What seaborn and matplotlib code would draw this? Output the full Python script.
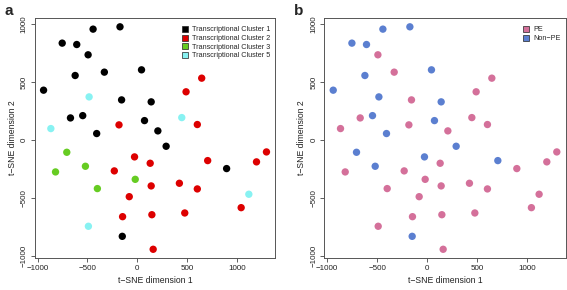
import matplotlib
matplotlib.use('Agg')
import matplotlib.pyplot as plt
from matplotlib.lines import Line2D
import pandas as pd
import seaborn as sns

# t-SNE coordinates
tsne_1 = [-940, -867, -753, -607, -443, -173, -493, -623, -330, 43,
          -483, -157, 140, -670, -547, -407, -183, 73, 207, 290,
          490, 647, 447, 603, -707, -820, -520, -27, 130, -230,
          -20, -400, 140, 423, 707, 897, 1197, 1297, 603, -80,
          1120, 1043, -147, 147, 477, -490, -150, 160]
tsne_2 = [430, 98, 837, 825, 958, 978, 736, 557, 586, 606,
          372, 346, 329, 190, 210, 55, 130, 167, 78, -55,
          416, 534, 193, 133, -107, -277, -228, -147, -202, -268,
          -341, -421, -398, -375, -179, -248, -190, -104, -424, -491,
          -470, -586, -664, -647, -632, -747, -834, -946]
cluster = [1, 5, 1, 1, 1, 1, 1, 1, 1, 1,
           5, 1, 1, 1, 1, 1, 2, 1, 1, 1,
           2, 2, 5, 2, 3, 3, 3, 2, 2, 2,
           3, 3, 2, 2, 2, 1, 2, 2, 2, 2,
           5, 2, 2, 2, 2, 5, 1, 2]
pe = ['N', 'P', 'N', 'N', 'N', 'N', 'P', 'N', 'P', 'N',
      'N', 'P', 'N', 'P', 'N', 'N', 'P', 'N', 'P', 'N',
      'P', 'P', 'P', 'P', 'N', 'P', 'N', 'N', 'P', 'P',
      'P', 'P', 'P', 'P', 'N', 'P', 'P', 'P', 'P', 'P',
      'P', 'P', 'P', 'P', 'P', 'P', 'N', 'P']

cluster_labels = ['Transcriptional Cluster 1', 'Transcriptional Cluster 2',
                  'Transcriptional Cluster 3', 'Transcriptional Cluster 5']
cluster_colors = {1: '#000000', 2: '#DD0000', 3: '#66CC22', 5: '#88F2F2'}
pe_labels = ['PE', 'Non\u2212PE']
pe_colors = {'P': '#D4709A', 'N': '#5B7FD0'}

df = pd.DataFrame({'x': tsne_1, 'y': tsne_2, 'cluster': cluster, 'pe': pe})

sns.set_style('white')
plt.rcParams['font.family'] = ['Liberation Sans', 'DejaVu Sans']

fig = plt.figure(figsize=(5.67, 2.90), dpi=100)
ax_a = fig.add_axes([0.0612, 0.1093, 0.4244, 0.8297])
ax_b = fig.add_axes([0.572, 0.1093, 0.4257, 0.8297])

sns.scatterplot(data=df, x='x', y='y', hue='cluster', palette=cluster_colors,
                s=28, linewidth=0, legend=False, ax=ax_a)
sns.scatterplot(data=df, x='x', y='y', hue='pe', palette=pe_colors,
                s=28, linewidth=0, legend=False, ax=ax_b)

for ax, letter in [(ax_a, 'a'), (ax_b, 'b')]:
    ax.set_xlim(-1029, 1386)
    ax.set_ylim(-1024, 1057)
    ax.set_xticks([-1000, -500, 0, 500, 1000])
    ax.set_yticks([-1000, -500, 0, 500, 1000])
    ax.set_xlabel('t\u2212SNE dimension 1', fontsize=6.2, color='#222222', labelpad=3)
    ax.set_ylabel('t\u2212SNE dimension 2', fontsize=6.2, color='#222222', labelpad=3)
    ax.tick_params(axis='both', direction='out', length=3, width=0.6, color='#444444',
                   labelsize=5.8, labelcolor='#222222', pad=2, bottom=True, left=True)
    ax.tick_params(axis='y', labelrotation=90)
    for lab in ax.get_yticklabels():
        lab.set_va('center')
    for sp in ax.spines.values():
        sp.set_color('#555555')
        sp.set_linewidth(0.7)
    pos = ax.get_position()
    fig.text(pos.x0 - 0.053, 0.985, letter, fontsize=11, fontweight='bold', va='top', ha='left')

def square(color):
    return Line2D([], [], marker='s', linestyle='none', markersize=3.8,
                  markerfacecolor=color, markeredgecolor='#222222', markeredgewidth=0.5)

ax_a.legend([square(cluster_colors[c]) for c in [1, 2, 3, 5]], cluster_labels,
            loc='upper right', frameon=False, fontsize=5.2, handlelength=0.9,
            handletextpad=0.5, labelspacing=0.22, borderaxespad=0.3,
            bbox_to_anchor=(1.0, 0.985))
ax_b.legend([square(pe_colors['P']), square(pe_colors['N'])], pe_labels,
            loc='upper right', frameon=False, fontsize=5.2, handlelength=0.9,
            handletextpad=0.5, labelspacing=0.22, borderaxespad=0.3,
            bbox_to_anchor=(1.0, 0.985))

fig.savefig('out.png', dpi=100)
